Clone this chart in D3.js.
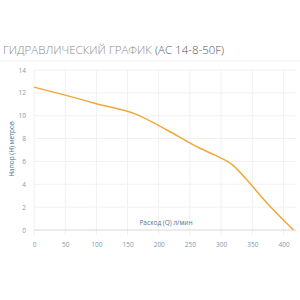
<!DOCTYPE html>
<html>
<head>
<meta charset="utf-8">
<script src="https://cdn.jsdelivr.net/npm/d3@7"></script>
<style>
  body { margin: 0; background: white; }
  text { font-family: "Open Sans", sans-serif; }
</style>
</head>
<body>
<div id="container"></div>
<script>
/* CONSTANTS AND GLOBALS */
const width = 300,
  height = 300;

/* DATA */
const flow = [0, 50, 100, 165, 213, 266, 290, 318, 346, 372, 416];      // Q, л/мин
const head = [12.5, 11.8, 11.05, 10.1, 8.75, 7.15, 6.55, 5.7, 4.1, 2.45, 0]; // H, м
const xTicks = [0, 50, 100, 150, 200, 250, 300, 350, 400];
const yTicks = [0, 2, 4, 6, 8, 10, 12, 14];

const svg = d3.select("#container")
  .append("svg")
  .attr("width", width)
  .attr("height", height)
  .style("background-color", "white");

/* TITLE */
const title = svg.append("text")
  .attr("x", 3)
  .attr("y", 54)
  .style("font-size", "11.5px")
  .style("font-weight", 300);
title.append("tspan").attr("fill", "#8a8a8a").text("ГИДРАВЛИЧЕСКИЙ ГРАФИК ");
title.append("tspan").attr("fill", "#555").text("(АС 14-8-50F)");

svg.append("line")
  .attr("x1", 0).attr("x2", width)
  .attr("y1", 61).attr("y2", 61)
  .attr("stroke", "#f0f0f0");

/* SCALES */
const xScale = d3.scaleLinear()
  .domain([0, 420])
  .range([34, 296]);

const yScale = d3.scaleLinear()
  .domain([0, 14])
  .range([230, 70]);

/* GRID */
svg.append("g")
  .selectAll("line")
  .data(yTicks.filter(d => d > 0))
  .join("line")
  .attr("x1", xScale(0)).attr("x2", xScale(420))
  .attr("y1", d => yScale(d)).attr("y2", d => yScale(d))
  .attr("stroke", "#f1f1f1");

svg.append("g")
  .selectAll("line")
  .data(xTicks)
  .join("line")
  .attr("x1", d => xScale(d)).attr("x2", d => xScale(d))
  .attr("y1", yScale(14)).attr("y2", yScale(0) + 5)
  .attr("stroke", "#f1f1f1");

// zero line
svg.append("line")
  .attr("x1", xScale(0)).attr("x2", xScale(420))
  .attr("y1", yScale(0)).attr("y2", yScale(0))
  .attr("stroke", "#d8d8d8");

/* AXES */
const xAxis = d3.axisBottom(xScale)
  .tickValues(xTicks)
  .tickSize(0)
  .tickPadding(12);

svg.append("g")
  .attr("transform", `translate(0, ${yScale(0)})`)
  .call(xAxis)
  .call(g => g.select(".domain").remove())
  .selectAll("text")
  .attr("fill", "#7d9ab0")
  .style("font-size", "6.5px");

const yAxis = d3.axisLeft(yScale)
  .tickValues(yTicks)
  .tickSize(0)
  .tickPadding(8);

svg.append("g")
  .attr("transform", `translate(${xScale(0)}, 0)`)
  .call(yAxis)
  .call(g => g.select(".domain").remove())
  .selectAll("text")
  .attr("fill", "#7d9ab0")
  .style("font-size", "6.5px");

/* AXIS TITLES */
svg.append("text")
  .attr("x", 166)
  .attr("y", 225)
  .attr("text-anchor", "middle")
  .attr("fill", "#4b7894")
  .style("font-size", "6.5px")
  .text("Расход (Q) л/мин");

svg.append("text")
  .attr("transform", `translate(14, ${yScale(7) - 1}) rotate(-90)`)
  .attr("text-anchor", "middle")
  .attr("fill", "#4b7894")
  .style("font-size", "6.5px")
  .text("Напор (Н) метров");

/* LINE */
const line = d3.line()
  .x((d, i) => xScale(flow[i]))
  .y(d => yScale(d))
  .curve(d3.curveMonotoneX);

svg.append("path")
  .datum(head)
  .attr("d", line)
  .attr("fill", "none")
  .attr("stroke", "#f0a83a")
  .attr("stroke-width", 1.5);
</script>
</body>
</html>
